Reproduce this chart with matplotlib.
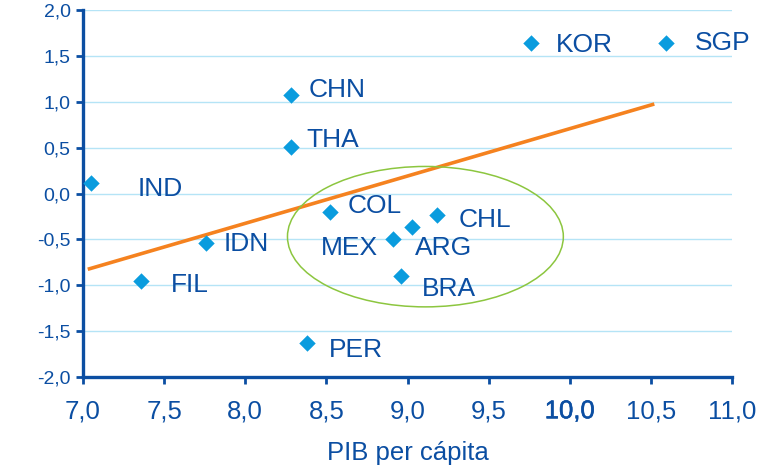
import numpy as np
import matplotlib.pyplot as plt
import matplotlib.patheffects as pe
from matplotlib.patches import Ellipse

plt.rcParams['font.family'] = ['Liberation Sans', 'DejaVu Sans']

# data
paises = ['IND', 'FIL', 'IDN', 'CHN', 'THA', 'PER', 'COL', 'MEX', 'ARG', 'CHL', 'BRA', 'KOR', 'SGP']
pib = [7.05, 7.36, 7.76, 8.28, 8.28, 8.38, 8.52, 8.91, 9.03, 9.18, 8.96, 9.76, 10.59]
val = [0.11, -0.95, -0.54, 1.07, 0.51, -1.63, -0.20, -0.50, -0.36, -0.23, -0.90, 1.64, 1.64]

tend_x = [7.04, 10.51]
tend_y = [-0.82, 0.97]

xticks = [7.0, 7.5, 8.0, 8.5, 9.0, 9.5, 10.0, 10.5, 11.0]
yticks = [-2.0, -1.5, -1.0, -0.5, 0.0, 0.5, 1.0, 1.5, 2.0]

# label offsets in pixels (dx, dy) and alignment
offs = {'IND': (47, -6, 'left'), 'FIL': (29, -4, 'left'), 'IDN': (17, -1, 'left'),
        'CHN': (18, 5, 'left'), 'THA': (16, 7, 'left'), 'PER': (22, -7, 'left'),
        'COL': (18, 6, 'left'), 'MEX': (-15, -9, 'right'), 'ARG': (3, -21, 'left'),
        'CHL': (22, -5, 'left'), 'BRA': (21, -13, 'left'), 'KOR': (25, -2, 'left'),
        'SGP': (29, 0, 'left')}

azul = '#0B4EA2'
cian = '#0A9CDE'

fig = plt.figure(figsize=(7.65, 4.69), dpi=100)
ax = fig.add_axes([0.1085, 0.196, 0.8485, 0.7827])

for y in yticks:
    ax.axhline(y, color='#B5E4F6', lw=1.0, zorder=0)

ax.plot(tend_x, tend_y, color='#F5821F', lw=2.6, zorder=2)
ax.add_patch(Ellipse((9.11, -0.47), 1.70, 1.53, fill=False, ec='#8CC63F', lw=1.1, zorder=2))
ax.scatter(pib, val, marker='D', s=70, color=cian, zorder=3, linewidths=0)

for p, x, y in zip(paises, pib, val):
    dx, dy, ha = offs[p]
    ax.annotate(p, (x, y), xytext=(dx * 0.72, dy * 0.72), textcoords='offset points',
                ha=ha, va='center', fontsize=19, color=azul)

ax.set_xlim(7.0, 11.0)
ax.set_ylim(-2.0, 2.0)
ax.set_xticks(xticks)
ax.set_yticks(yticks)
ax.set_xticklabels([f'{v:.1f}'.replace('.', ',') for v in xticks], fontsize=18.5, color=azul)
ax.set_yticklabels([f'{v:.1f}'.replace('.', ',') for v in yticks], fontsize=14, color=azul)
ax.get_xticklabels()[6].set_path_effects([pe.withStroke(linewidth=0.4, foreground=azul)])
ax.tick_params(axis='x', length=5, width=2, color=azul, pad=11)
ax.tick_params(axis='y', length=5, width=2, color=azul, pad=4)
ax.set_xlabel('PIB per cápita', fontsize=18.5, color=azul, labelpad=13)

for s in ['top', 'right']:
    ax.spines[s].set_visible(False)
for s in ['left', 'bottom']:
    ax.spines[s].set_color(azul)
    ax.spines[s].set_linewidth(2.4)

fig.savefig('out.png', dpi=100)
